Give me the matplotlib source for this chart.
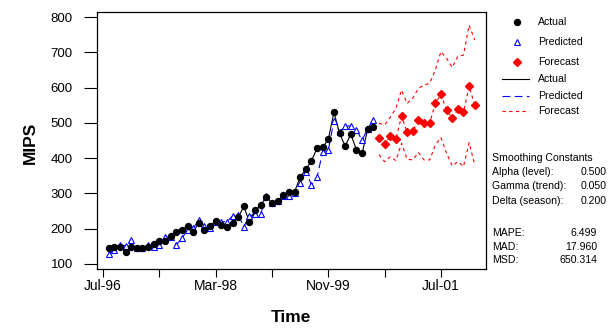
import numpy as np
import matplotlib
matplotlib.use("Agg")
import matplotlib.pyplot as plt
from matplotlib.lines import Line2D

plt.rcParams["font.family"] = ["Liberation Sans", "DejaVu Sans"]

# Monthly MIPS, index 0 = Jul-96
actual = [144.5, 147, 149, 134, 149, 145, 145, 147, 158, 165,
          165, 178, 191, 195, 208, 191, 216, 195, 207, 223,
          211, 204, 216, 232, 263, 219, 253, 266, 291, 272,
          278, 295, 304, 304, 346, 368, 392, 428, 431, 453,
          530, 470, 434, 468, 423, 414, 482, 487]
predicted = [128, 140, 154, 152, 168, 144.5, 144.5, 154, 149, 154,
             177.5, 175.5, 154, 173, 196, 201, 225, 208, 201, 220,
             220, 220, 236, 239, 206, 236, 242, 242, 293, 272,
             279, 293, 293, 300, 330, 362, 325, 346, 418, 423,
             506, 475, 491, 491, 480, 451, 484, 508]
forecast = [456, 439, 462, 453, 519, 473, 477, 507, 499, 499,
            555, 581, 536, 513, 538, 530, 604, 550]
upper = [499, 494, 516, 541, 593, 555, 570, 598, 607, 612,
         650, 702, 683, 657, 688, 692, 777, 735]
lower = [410, 390, 404, 393, 442, 397, 395, 416, 395, 395,
         437, 458, 414, 378, 390, 376, 444, 381]

tick_pos = [0, 10, 20, 30, 40, 50, 60]
tick_labels = ["Jul-96", "", "Mar-98", "", "Nov-99", "", "Jul-01"]

constants = [("Alpha (level):", "0.500"), ("Gamma (trend):", "0.050"),
             ("Delta (season):", "0.200")]
accuracy = [("MAPE:", "6.499"), ("MAD:", "17.960"), ("MSD:", "650.314")]

W, H = 616, 335
fig = plt.figure(figsize=(W / 100, H / 100), dpi=100)


def fx(x):
    return x / W


def fy(y):
    return 1 - y / H


ax = fig.add_axes([fx(97), fy(269), fx(486) - fx(97), fy(12) - fy(269)])

t_act = np.arange(1, len(actual) + 1)
t_fc = np.arange(len(actual) + 1, len(actual) + len(forecast) + 1)

ax.plot(t_act, actual, color="black", lw=0.8, zorder=3)
ax.plot(t_act, predicted, color="blue", lw=0.8, ls=(0, (7, 4)), zorder=2)
ax.plot(t_fc, forecast, color="red", lw=0.8, ls=(0, (3, 3)), zorder=2)
ax.plot(t_fc, upper, color="red", lw=0.8, ls=(0, (3, 3)), zorder=2)
ax.plot(t_fc, lower, color="red", lw=0.8, ls=(0, (3, 3)), zorder=2)

ax.plot(t_act, predicted, ls="none", marker="^", ms=5, mfc="white",
        mec="blue", mew=0.8, zorder=4)
ax.plot(t_act, actual, ls="none", marker="o", ms=4.3, color="black", zorder=5)
ax.plot(t_fc, forecast, ls="none", marker="D", ms=4.3, color="red", zorder=5)

ax.set_xlim(-1.07, 68.0)
ax.set_ylim(85.8, 814.2)
ax.set_yticks([100, 200, 300, 400, 500, 600, 700, 800])
ax.set_xticks(tick_pos)
ax.set_xticklabels(tick_labels)
ax.tick_params(axis="y", direction="out", length=9.4, width=0.8, pad=8,
               labelsize=9.5)
ax.tick_params(axis="x", direction="out", length=5.8, width=0.8, pad=1.5,
               labelsize=10)
for s in ax.spines.values():
    s.set_linewidth(0.9)

fig.text(fx(30), fy(143), "MIPS", rotation=90, ha="center", va="center",
         fontsize=12.5, fontweight="bold")
fig.text(fx(291), fy(317), "Time", ha="center", va="center",
         fontsize=12.5, fontweight="bold")

# legend, drawn by hand on the right margin
sym_rows = [(22, "Actual", dict(marker="o", ms=4.3, color="black", ls="none")),
            (42, "Predicted", dict(marker="^", ms=5, mfc="white", mec="blue",
                                   mew=0.8, ls="none")),
            (62, "Forecast", dict(marker="D", ms=4.3, color="red", ls="none"))]
for y, name, kw in sym_rows:
    fig.add_artist(Line2D([fx(517)], [fy(y)], transform=fig.transFigure, **kw))
    fig.text(fx(538), fy(y), name, va="center", fontsize=7.6)

line_rows = [(79, "Actual", dict(color="black", lw=0.8)),
             (96, "Predicted", dict(color="blue", lw=0.8, ls=(0, (7, 4)))),
             (111, "Forecast", dict(color="red", lw=0.8, ls=(0, (3, 3))))]
for y, name, kw in line_rows:
    fig.add_artist(Line2D([fx(502), fx(529)], [fy(y), fy(y)],
                          transform=fig.transFigure, **kw))
    fig.text(fx(538), fy(y), name, va="center", fontsize=7.6)

fig.text(fx(492), fy(158), "Smoothing Constants", va="center", fontsize=7.6)
for i, (name, val) in enumerate(constants):
    y = 172 + i * 14.3
    fig.text(fx(492), fy(y), name, va="center", fontsize=7.6)
    fig.text(fx(607), fy(y), val, va="center", ha="right", fontsize=7.6)
for i, (name, val) in enumerate(accuracy):
    y = 233 + i * 13.5
    fig.text(fx(492), fy(y), name, va="center", fontsize=7.6)
    fig.text(fx(597), fy(y), val, va="center", ha="right", fontsize=7.6)

fig.savefig("out.png", dpi=100)
